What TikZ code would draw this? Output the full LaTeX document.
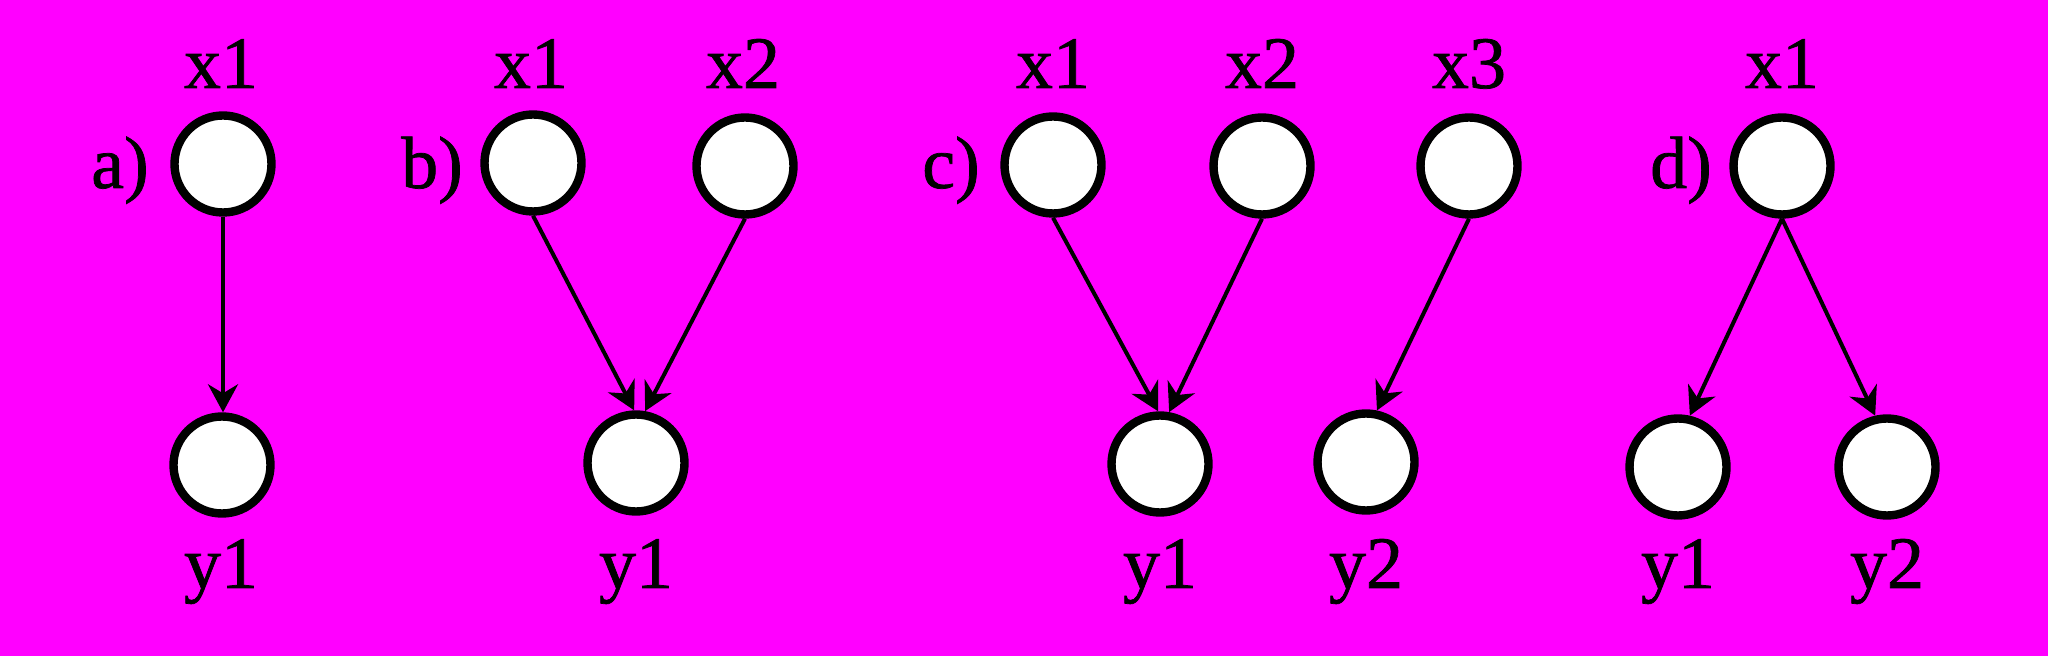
\documentclass[tikz,border=0pt]{standalone}
\usepackage{fontspec}
\setmainfont[FakeBold=1]{Liberation Serif}
\usetikzlibrary{arrows.meta}
\definecolor{bg}{RGB}{255,0,255}
\begin{document}
\begin{tikzpicture}[x=0.5pt,y=-0.5pt,
  vnode/.style={circle,draw=black,fill=white,line width=4.2pt,minimum size=48.5pt,inner sep=0pt},
  lab/.style={anchor=base,inner sep=0pt,font=\fontsize{37pt}{40pt}\selectfont},
  edge/.style={line width=2pt,-{Stealth[length=14pt,width=15pt,inset=4.5pt]}}]
\useasboundingbox (0,0) rectangle (2048,656);
\fill[bg] (0,0) rectangle (2048,656);
% a)
\node[vnode] (ax1) at (223,164) {};
\node[vnode] (ay1) at (222,465) {};
\node[lab] (ax1t) at (221,88) {x1};
\node[lab] (ay1t) at (221,588) {y1};
\node[lab] (al) at (120,188) {a)};
\draw[edge] (ax1.south) -- (ax1.south |- ay1.north);
% b)
\node[vnode] (bx1) at (533,163) {};
\node[vnode] (bx2) at (745,166) {};
\node[vnode] (by1) at (636,463) {};
\node[lab] (bx1t) at (531,88) {x1};
\node[lab] (bx2t) at (743,88) {x2};
\node[lab] (by1t) at (636,588) {y1};
\node[lab] (bl) at (432,188) {b)};
\draw[edge] (bx1.south) -- (by1.92);
\draw[edge] (bx2.south) -- (by1.80);
% c)
\node[vnode] (cx1) at (1053,165) {};
\node[vnode] (cx2) at (1262,166) {};
\node[vnode] (cx3) at (1469,166) {};
\node[vnode] (cy1) at (1160,464) {};
\node[vnode] (cy2) at (1366,462) {};
\node[lab] (cx1t) at (1053,88) {x1};
\node[lab] (cx2t) at (1262,88) {x2};
\node[lab] (cx3t) at (1469,88) {x3};
\node[lab] (cy1t) at (1160,588) {y1};
\node[lab] (cy2t) at (1366,588) {y2};
\node[lab] (cl) at (951,188) {c)};
\draw[edge] (cx1.south) -- (cy1.92);
\draw[edge] (cx2.south) -- (cy1.80);
\draw[edge] (cx3.south) -- (cy2.78);
% d)
\node[vnode] (dx1) at (1782,166) {};
\node[vnode] (dy1) at (1678,467) {};
\node[vnode] (dy2) at (1887,467) {};
\node[lab] (dx1t) at (1782,88) {x1};
\node[lab] (dy1t) at (1678,588) {y1};
\node[lab] (dy2t) at (1887,588) {y2};
\node[lab] (dl) at (1681,188) {d)};
\draw[edge] (dx1.south) -- (dy1.77);
\draw[edge] (dx1.south) -- (dy2.103);
\end{tikzpicture}
\end{document}
